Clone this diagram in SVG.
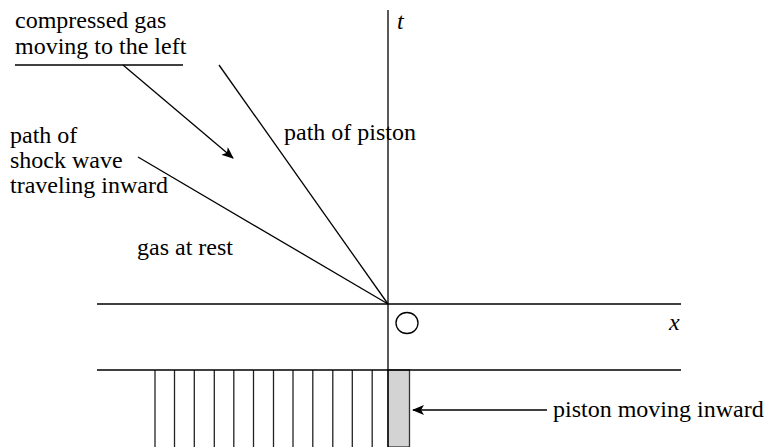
<svg xmlns="http://www.w3.org/2000/svg" width="764" height="447" viewBox="0 0 764 447">
<style>
text{font-family:"Liberation Serif","DejaVu Serif",serif;font-size:24px;fill:#000}
.it{font-style:italic}
.ln{stroke:#000;stroke-width:1.3;fill:none}
.h{stroke:#222;stroke-width:1.3}
</style>
<defs>
<marker id="ah" markerWidth="12" markerHeight="10" refX="11" refY="5" orient="auto" markerUnits="userSpaceOnUse">
<path d="M0,0 L12,5 L0,10 L3,5 Z" fill="#000"/>
</marker>
</defs>
<rect width="764" height="447" fill="#fff"/>
<g id="piston">
<rect x="388" y="370" width="21.5" height="77" fill="#d3d3d3" stroke="#333" stroke-width="1.3"/>
</g>
<g id="hatch">
<line class="h" x1="155" y1="370" x2="155" y2="447"/>
<line class="h" x1="174.5" y1="370" x2="174.5" y2="447"/>
<line class="h" x1="194.3" y1="370" x2="194.3" y2="447"/>
<line class="h" x1="214.3" y1="370" x2="214.3" y2="447"/>
<line class="h" x1="233.8" y1="370" x2="233.8" y2="447"/>
<line class="h" x1="253.5" y1="370" x2="253.5" y2="447"/>
<line class="h" x1="273.5" y1="370" x2="273.5" y2="447"/>
<line class="h" x1="293" y1="370" x2="293" y2="447"/>
<line class="h" x1="312.8" y1="370" x2="312.8" y2="447"/>
<line class="h" x1="332.8" y1="370" x2="332.8" y2="447"/>
<line class="h" x1="352.3" y1="370" x2="352.3" y2="447"/>
<line class="h" x1="372.2" y1="370" x2="372.2" y2="447"/>
</g>
<g id="axes">
<line class="ln" x1="388" y1="10" x2="388" y2="447"/>
<line class="ln" x1="97" y1="304" x2="681" y2="304"/>
<line class="ln" x1="97" y1="370" x2="681" y2="370"/>
<ellipse cx="407" cy="323" rx="11" ry="10.5" class="ln"/>
<text class="it" x="397" y="29">t</text>
<text class="it" x="669" y="330">x</text>
</g>
<g id="connectors">
<line class="ln" x1="219" y1="65" x2="388" y2="304"/>
<line class="ln" x1="138" y1="157" x2="388" y2="304"/>
<line class="ln" x1="15" y1="65" x2="183" y2="65"/>
<line class="ln" x1="123" y1="65" x2="233" y2="158" marker-end="url(#ah)"/>
<line class="ln" x1="547" y1="410" x2="413" y2="410" marker-end="url(#ah)"/>
</g>
<g id="labels">
<text x="15" y="28">compressed gas</text>
<text x="15" y="54">moving to the left</text>
<text x="284" y="140">path of piston</text>
<text x="10" y="143">path of</text>
<text x="10" y="168">shock wave</text>
<text x="10" y="193">traveling inward</text>
<text x="137" y="255">gas at rest</text>
<text x="553" y="417">piston moving inward</text>
</g>
</svg>
